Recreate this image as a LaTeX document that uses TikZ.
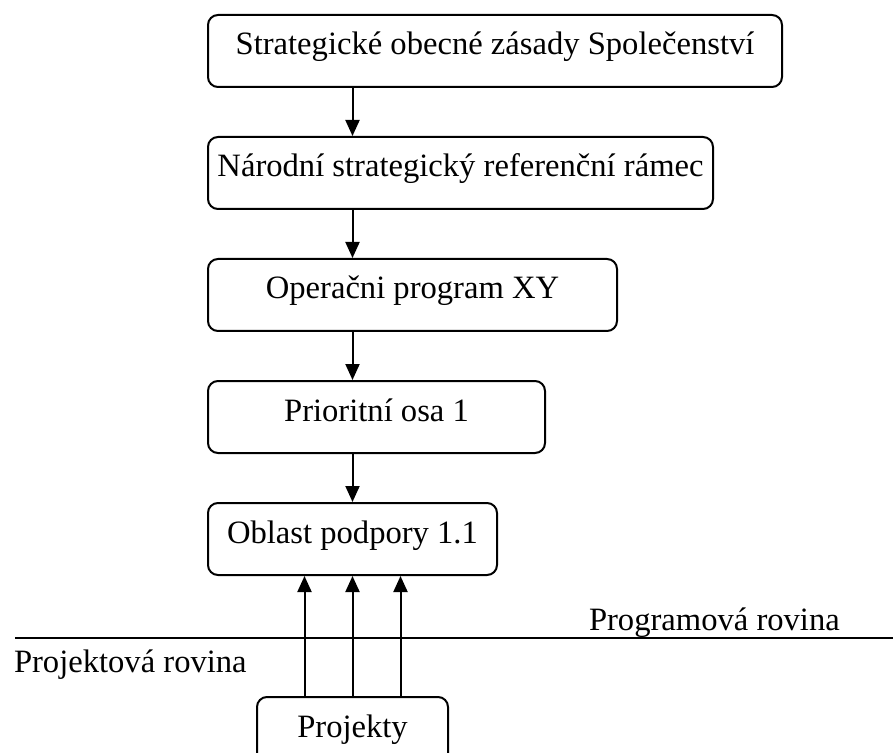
\documentclass[tikz,border=0pt]{standalone}
\usepackage{fontspec}
\setmainfont{Liberation Serif}
\usetikzlibrary{positioning,arrows.meta}

\begin{document}
\begin{tikzpicture}[x=0.5pt, y=-0.5pt, line width=1pt,
  font=\fontsize{16.3pt}{19pt}\selectfont,
  box/.style={draw, rounded corners=5pt, minimum height=36pt, inner sep=0pt,
    text height=9pt, text depth=5pt},
  arr/.style={-{Triangle[length=8pt,width=7pt]}}]
  \clip (0,0) rectangle (893,753);

  % program levels
  \node [box, minimum width=287pt, anchor=north west] (strat) at (207,14)
    {Strategické obecné zásady Společenství};
  \node [box, minimum width=252.5pt, below=24pt of strat.south west, anchor=north west] (nsrr)
    {Národní strategický referenční rámec};
  \node [box, minimum width=204.5pt, below=24pt of nsrr.south west, anchor=north west] (op)
    {Operačni program XY};
  \node [box, minimum width=168.5pt, below=24pt of op.south west, anchor=north west] (osa)
    {Prioritní osa 1};
  \node [box, minimum width=144.5pt, below=24pt of osa.south west, anchor=north west] (obl)
    {Oblast podpory 1.1};
  \node [box, minimum width=95.5pt, below=60pt of obl] (proj) {Projekty};

  \draw [arr] (strat.south -| obl.north) -- (nsrr.north -| obl.north);
  \draw [arr] (nsrr.south -| obl.north) -- (op.north -| obl.north);
  \draw [arr] (op.south -| obl.north) -- (osa.north -| obl.north);
  \draw [arr] (osa.south -| obl.north) -- (obl.north);

  \foreach \dx in {-24pt,0pt,24pt}
    \draw [arr] ([xshift=\dx]proj.north) -- ([xshift=\dx]obl.south);

  % dividing line
  \coordinate (lineL) at (15,638);
  \coordinate (lineR) at (893,638);
  \draw (lineL) -- (lineR);
  \node [anchor=base west, inner sep=0pt] (prog) at (588,630) {Programová rovina};
  \node [anchor=base west, inner sep=0pt] (projr) at (13,672) {Projektová rovina};
\end{tikzpicture}
\end{document}
